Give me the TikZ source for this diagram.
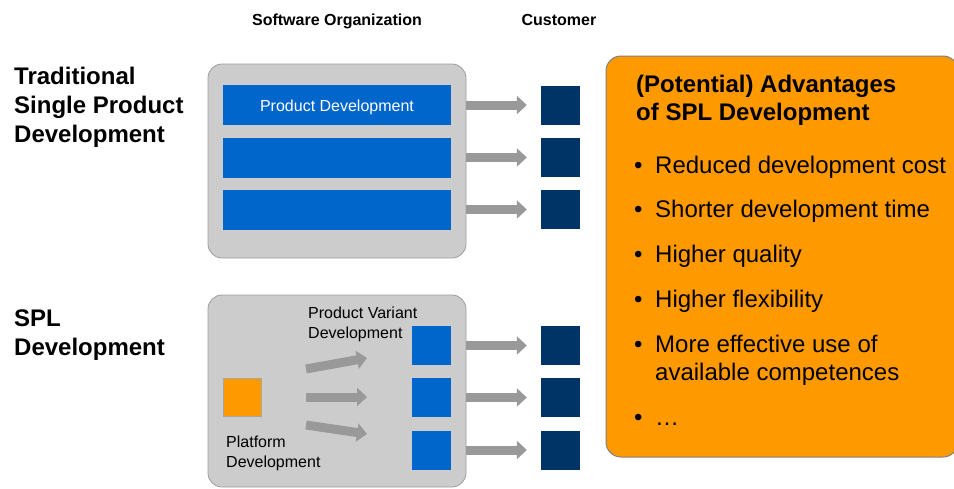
\documentclass[tikz,border=0pt]{standalone}
\usepackage{fontspec}
\setmainfont{Liberation Sans}
\usetikzlibrary{arrows.meta}
\definecolor{orggray}{HTML}{CCCCCC}
\definecolor{devblue}{HTML}{0066CC}
\definecolor{custblue}{HTML}{003366}
\definecolor{platorange}{HTML}{FF9900}
\definecolor{flowgray}{HTML}{999999}
\tikzset{
  orgbox/.style={draw=black!38, fill=orggray, line width=0.8pt, rounded corners=14pt, inner sep=0pt},
  devbar/.style={fill=devblue, minimum width=228pt, minimum height=40pt, inner sep=0pt},
  custbox/.style={fill=custblue, minimum size=39pt, inner sep=0pt},
  varbox/.style={fill=devblue, minimum size=39pt, inner sep=0pt},
  flow/.style={draw=flowgray, line width=9pt, -{Triangle[length=10pt,width=18pt]}},
  rowlabel/.style={anchor=base west, align=left, inner sep=0pt, font=\bfseries\fontsize{24}{29}\selectfont},
  smalllabel/.style={anchor=base west, align=left, inner sep=0pt, font=\fontsize{16}{19.5}\selectfont},
  headlabel/.style={anchor=base, inner sep=0pt, font=\bfseries\fontsize{16}{18}\selectfont},
  advitem/.style={anchor=base west, align=left, inner sep=0pt, font=\fontsize{24}{28}\selectfont}
}

\begin{document}
\begin{tikzpicture}[x=1pt, y=-1pt]
  %%%%% START %%%%%
  \useasboundingbox (0,0) rectangle (954,488);
  \clip (0,0) rectangle (954,488);

  % column headers
  \node[headlabel] (orghead) at (337,25) {Software Organization};
  \node[headlabel] (custhead) at (559,25) {Customer};

  % row labels (base = last line)
  \node[rowlabel] (tradlabel) at (14,142) {Traditional\\Single Product\\Development};
  \node[rowlabel] (spllabel) at (14,355) {SPL\\Development};

  % traditional single product development
  \node[orgbox, minimum width=258pt, minimum height=194pt] (tradorg) at (337,161) {};
  \node[devbar] (bar1) at (337,105) {};
  \node[devbar] (bar2) at (337,157.5) {};
  \node[devbar] (bar3) at (337,209.5) {};
  \node[anchor=base, inner sep=0pt, text=white, font=\fontsize{16}{18}\selectfont] (bartext) at (337,111) {Product Development};

  \node[custbox] (cust1) at (560.5,105) {};
  \node[custbox] (cust2) at (560.5,157.5) {};
  \node[custbox] (cust3) at (560.5,209.5) {};

  \foreach \i in {1,2,3}
    \draw[flow, shorten >=14pt] (bar\i.east -| tradorg.east) -- (cust\i.west);

  % SPL development
  \node[orgbox, minimum width=258pt, minimum height=192pt] (splorg) at (337,391) {};
  \node[fill=platorange, draw=black!35, line width=0.6pt, minimum size=38pt, inner sep=0pt] (platform) at (242.5,397) {};
  \node[varbox] (var1) at (431.5,345.5) {};
  \node[varbox] (var2) at (431.5,397.5) {};
  \node[varbox] (var3) at (431.5,450) {};

  \node[smalllabel] (varlabel) at (308,338) {Product Variant\\Development};
  \node[smalllabel] (platlabel) at (226,467) {Platform\\Development};

  \coordinate (plat1) at (306,369);
  \coordinate (plat2) at (306,397);
  \coordinate (plat3) at (306,425);
  \coordinate (varin1) at (367,358);
  \coordinate (varin2) at (367,397);
  \coordinate (varin3) at (367,434);
  \foreach \i in {1,2,3}
    \draw[flow] (plat\i) -- (varin\i);

  \node[custbox] (cust4) at (560.5,345.5) {};
  \node[custbox] (cust5) at (560.5,397.5) {};
  \node[custbox] (cust6) at (560.5,450) {};

  \draw[flow, shorten >=14pt] (var1.east -| splorg.east) -- (cust4.west);
  \draw[flow, shorten >=14pt] (var2.east -| splorg.east) -- (cust5.west);
  \draw[flow, shorten >=14pt] (var3.east -| splorg.east) -- (cust6.west);

  % advantages
  \node[draw=black!50, fill=platorange, line width=1pt, rounded corners=15pt,
        minimum width=352pt, minimum height=401pt, inner sep=0pt] (advbox) at (782,256.5) {};
  \node[advitem, font=\bfseries\fontsize{24}{28}\selectfont] (advtitle) at (636,120) {(Potential) Advantages\\of SPL Development};
  \node[advitem] (adv1) at (634,173) {\makebox[21pt][l]{\textbullet}Reduced development cost};
  \node[advitem] (adv2) at (634,217) {\makebox[21pt][l]{\textbullet}Shorter development time};
  \node[advitem] (adv3) at (634,262) {\makebox[21pt][l]{\textbullet}Higher quality};
  \node[advitem] (adv4) at (634,307) {\makebox[21pt][l]{\textbullet}Higher flexibility};
  \node[advitem] (adv5) at (634,380) {\makebox[21pt][l]{\textbullet}More effective use of\\\hspace*{21pt}available competences};
  \node[advitem] (adv6) at (634,425) {\makebox[21pt][l]{\textbullet}\dots};
  %%%%% END %%%%%
\end{tikzpicture}
\end{document}
